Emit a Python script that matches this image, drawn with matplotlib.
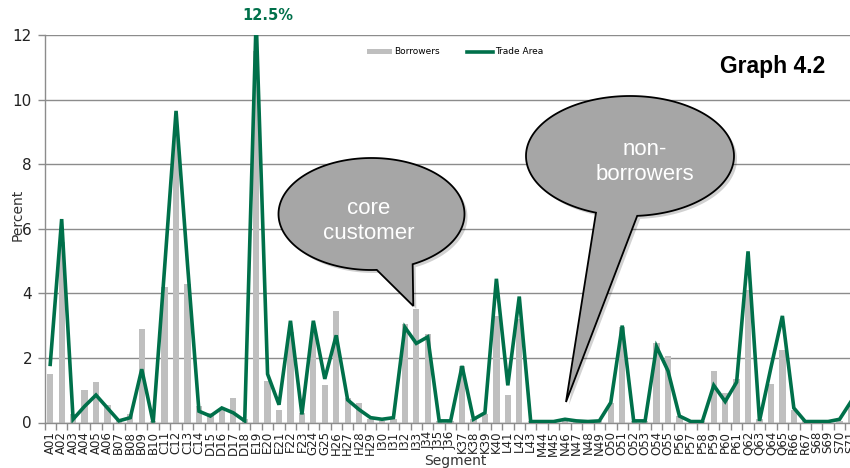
import numpy as np
import matplotlib
matplotlib.use("Agg")
import matplotlib.pyplot as plt
from matplotlib.patches import Polygon
from matplotlib.lines import Line2D
from matplotlib.patches import Patch

segments = ["A01","A02","A03","A04","A05","A06","B07","B08","B09","B10",
            "C11","C12","C13","C14","D15","D16","D17","D18","E19","E20",
            "E21","F22","F23","G24","G25","H26","H27","H28","H29","I30",
            "I31","I32","I33","J34","J35","J36","K37","K38","K39","K40",
            "L41","L42","L43","M44","M45","N46","N47","N48","N49","O50",
            "O51","O52","O53","O54","O55","P56","P57","P58","P59","P60",
            "P61","Q62","Q63","Q64","Q65","R66","R67","S68","S69","S70","S71"]

borrowers = [1.5, 5.6, 0.25, 1.0, 1.25, 0.55, 0.1, 0.25, 2.9, 0.05,
             4.2, 9.0, 4.3, 0.5, 0.3, 0.4, 0.75, 0.1, 11.5, 1.3,
             0.4, 2.8, 0.3, 2.8, 1.15, 3.45, 0.75, 0.6, 0.1, 0.05,
             0.1, 3.05, 3.5, 2.75, 0.05, 0.05, 1.75, 0.1, 0.25, 3.3,
             0.85, 3.2, 0.05, 0.02, 0.02, 0.05, 0.02, 0.02, 0.05, 0.6,
             2.95, 0.05, 0.05, 2.45, 2.05, 0.2, 0.05, 0.05, 1.6, 0.9,
             1.35, 4.1, 0.1, 1.2, 2.25, 0.4, 0.05, 0.02, 0.02, 0.05, 0.5]

trade_area = [1.8, 6.3, 0.1, 0.5, 0.85, 0.45, 0.05, 0.15, 1.65, 0.0,
              4.8, 9.65, 4.9, 0.35, 0.2, 0.45, 0.3, 0.05, 12.5, 1.5,
              0.55, 3.15, 0.25, 3.15, 1.35, 2.7, 0.7, 0.4, 0.15, 0.1,
              0.15, 2.95, 2.45, 2.65, 0.05, 0.05, 1.75, 0.1, 0.3, 4.45,
              1.15, 3.9, 0.03, 0.03, 0.03, 0.1, 0.05, 0.03, 0.05, 0.62,
              3.0, 0.05, 0.05, 2.35, 1.6, 0.2, 0.03, 0.03, 1.15, 0.65,
              1.25, 5.3, 0.05, 1.7, 3.3, 0.45, 0.03, 0.03, 0.03, 0.1, 0.65]

yticks = [0, 2, 4, 6, 8, 10, 12]

W, H = 850, 468
GREEN = "#00704a"
GREY_BAR = "#bfbfbf"

fig = plt.figure(figsize=(W / 100, H / 100), dpi=100)
ax_left = 44.5 / W
ax_right = (44.5 + 71 * 11.44) / W
ax_bottom = 1 - 422.5 / H
ax_top = 1 - 35 / H
ax = fig.add_axes([ax_left, ax_bottom, ax_right - ax_left, ax_top - ax_bottom])

x = np.arange(len(segments))
ax.bar(x, borrowers, width=0.55, color=GREY_BAR, zorder=2)
ax.plot(x, trade_area, color=GREEN, lw=2.6, zorder=3, solid_joinstyle="miter")

ax.set_xlim(-0.5, len(segments) - 0.5)
ax.set_ylim(0, 12)
ax.set_yticks(yticks)
ax.set_yticklabels([str(v) for v in yticks], fontsize=11, color="#222222")
ax.yaxis.grid(True, color="#8c8c8c", lw=1.0, zorder=0)
ax.set_axisbelow(True)

ax.set_xticks(x)
ax.set_xticklabels(segments, rotation=90, fontsize=8.5, color="#222222")
ax.set_xticks(np.arange(-0.5, len(segments), 1.0), minor=True)
ax.tick_params(axis="x", which="major", length=0, pad=6)
ax.tick_params(axis="x", which="minor", length=5, color="#8c8c8c", width=1)
ax.tick_params(axis="y", length=5, color="#8c8c8c", width=1, pad=4)

for s in ["top", "right"]:
    ax.spines[s].set_visible(False)
for s in ["left", "bottom"]:
    ax.spines[s].set_color("#8c8c8c")
    ax.spines[s].set_linewidth(1.0)

fig.text(18 / W, 1 - 215 / H, "Percent", rotation=90, ha="center", va="center",
         fontsize=10, color="#333333")
fig.text(455 / W, 1 - 461 / H, "Segment", ha="center", va="center",
         fontsize=10, color="#333333")

fig.text(268 / W, 1 - 15 / H, "12.5%", ha="center", va="center",
         fontsize=10.5, fontweight="bold", color=GREEN)

fig.text(773 / W, 1 - 67 / H, "Graph 4.2", ha="center", va="center",
         fontsize=16.5, fontweight="bold", family="Liberation Sans", color="black")

handles = [Patch(facecolor=GREY_BAR, edgecolor="none"),
           Line2D([0], [0], color=GREEN, lw=2.6)]
leg = fig.legend(handles, ["Borrowers", "Trade Area"], loc="center",
                 bbox_to_anchor=(455 / W, 1 - 52 / H), ncol=2, frameon=False,
                 fontsize=6.5, handlelength=2.8, handleheight=0.5,
                 handletextpad=0.3, columnspacing=3.0)


def to_fig(px, py):
    return (px / W, 1 - py / H)


def bubble(cx, cy, a, b, base1, base2, tip, text, tx, ty):
    t1 = np.arctan2((base1[1] - cy) / b, (base1[0] - cx) / a)
    t2 = np.arctan2((base2[1] - cy) / b, (base2[0] - cx) / a)
    if t2 > t1:
        t2 -= 2 * np.pi
    ts = np.linspace(t1, t2 + 2 * np.pi, 200)
    pts = [(cx + a * np.cos(t), cy + b * np.sin(t)) for t in ts]
    pts.append(tip)
    # shadow
    sh = [to_fig(px + 3, py + 3) for px, py in pts]
    fig.patches.append(Polygon(sh, closed=True, transform=fig.transFigure,
                               facecolor="#000000", alpha=0.18, edgecolor="none",
                               zorder=5))
    fp = [to_fig(px, py) for px, py in pts]
    fig.patches.append(Polygon(fp, closed=True, transform=fig.transFigure,
                               facecolor="#a6a6a6", edgecolor="black", lw=1.3,
                               zorder=6, joinstyle="miter"))
    fig.text(tx / W, 1 - ty / H, text, ha="center", va="center", fontsize=16,
             color="white", family="Liberation Sans", linespacing=1.2, zorder=7)


bubble(371.5, 214, 93, 56, (376.7, 269), (413.3, 265), (413.3, 306),
       "core\ncustomer", 369, 221)
bubble(630, 156, 104, 60, (597, 211), (637, 214), (566, 402),
       "non-\nborrowers", 645, 162)

fig.savefig("out.png", dpi=100)
